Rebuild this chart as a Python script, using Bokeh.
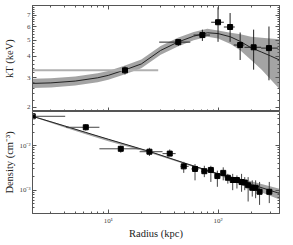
import numpy as np
from bokeh.plotting import figure
from bokeh.layouts import column
from bokeh.models import Range1d, FixedTicker, LogAxis
from bokeh.embed import file_html
from bokeh.resources import INLINE

# ---------------- data: temperature profile ----------------
kt_r = [14.2, 43.4, 72, 100, 128.8, 159, 211, 291]
kt_val = [3.31, 4.86, 5.35, 6.37, 5.97, 4.67, 4.53, 4.48]
kt_lo = [3.13, 4.61, 4.94, 4.88, 4.88, 3.81, 3.34, 2.89]
kt_hi = [3.49, 5.05, 5.76, 7.81, 7.22, 5.54, 5.76, 6.01]
kt_rlo = [1.5, 29.1, 59.8, 86.6, 113, 139, 174, 247]
kt_rhi = [28.5, 55.9, 84.3, 113, 142, 174, 247, 351]

ktm_r = [2.04, 3, 5, 8, 10, 14.2, 20, 30, 43, 60, 80, 100, 130, 160, 200, 250, 300, 363]
ktm_val = [2.77, 2.79, 2.86, 2.99, 3.09, 3.33, 3.61, 4.34, 4.86, 5.27, 5.52, 5.46, 5.22, 4.90, 4.50, 4.24, 4.03, 3.81]
ktm_lo = [2.60, 2.62, 2.69, 2.81, 2.91, 3.14, 3.40, 4.09, 4.58, 4.99, 5.22, 5.10, 4.73, 4.34, 3.81, 3.34, 2.93, 2.57]
ktm_hi = [2.95, 2.97, 3.04, 3.18, 3.28, 3.53, 3.84, 4.61, 5.16, 5.58, 5.82, 5.70, 5.52, 5.41, 5.22, 5.15, 5.10, 5.05]

# ---------------- data: density profile ----------------
ne_r = [2.05, 6.24, 13.0, 23.7, 36.3, 48.7, 61.7, 75, 86, 98.6, 111.5, 122.8, 136, 148.6, 163.8, 175, 188, 205, 220, 239, 293]
ne_val = [0.0453, 0.0257, 0.00846, 0.00728, 0.0066, 0.00342, 0.00299, 0.00266, 0.00284, 0.00207, 0.00244,
          0.0019, 0.00169, 0.00169, 0.00152, 0.00148, 0.00129, 0.00113, 0.00113, 0.00092, 0.00092]
ne_lo = [0.041, 0.0216, 0.0069, 0.00583, 0.00583, 0.00244, 0.00166, 0.00196, 0.00153, 0.00119, 0.00166,
         0.0014, 0.0010, 0.00109, 0.00092, 0.0010, 0.000557, 0.000718, 0.00066, 0.000468, 0.000513]
ne_hi = [0.050, 0.0303, 0.0100, 0.0089, 0.00818, 0.00431, 0.00384, 0.00352, 0.00352, 0.00274, 0.00325,
         0.00232, 0.00232, 0.00214, 0.00232, 0.00196, 0.00196, 0.00166, 0.00166, 0.00153, 0.00153]
ne_rlo = [1.5, 4.13, 8.3, 19.3, 31.2, 45.5, 57, 70, 81, 93, 106, 117, 131, 143, 157, 170, 182, 197, 212, 228, 275]
ne_rhi = [4.05, 8.3, 19.3, 31.2, 41.1, 54, 67, 81, 92, 105, 118, 129, 142, 155, 171, 181, 195, 213, 229, 252, 312]

nem_r = [2.04, 4, 6.24, 10, 23.7, 50, 100, 200, 363]
nem_val = [0.0453, 0.0275, 0.0197, 0.01387, 0.00739, 0.00402, 0.00233, 0.00135, 0.000847]
nem_lo = [0.0443, 0.0255, 0.0180, 0.0125, 0.0069, 0.0038, 0.00220, 0.00110, 0.00062]
nem_hi = [0.0463, 0.0280, 0.0200, 0.0141, 0.0075, 0.0041, 0.00243, 0.00158, 0.00108]

# ticks
x_major = [10, 100]
x_minor = [3, 4, 5, 6, 7, 8, 9, 20, 30, 40, 50, 60, 70, 80, 90, 200, 300]
kt_major = [2, 3, 4, 5, 6, 7]
kt_minor = [2.2, 2.4, 2.6, 2.8, 3.2, 3.4, 3.6, 3.8, 4.2, 4.4, 4.6, 4.8, 5.2, 5.4, 5.6, 5.8,
            6.2, 6.4, 6.6, 6.8, 7.2, 7.4, 7.6, 7.8]
ne_major = [0.001, 0.01]
ne_minor = [4e-4, 5e-4, 6e-4, 7e-4, 8e-4, 9e-4, 2e-3, 3e-3, 4e-3, 5e-3, 6e-3, 7e-3, 8e-3, 9e-3,
            2e-2, 3e-2, 4e-2, 5e-2]

FONT = "Liberation Serif"
AX = "#555555"
BAND = "#9a9a9a"

x_range = Range1d(2.04, 363)
xticker = FixedTicker(ticks=x_major, minor_ticks=x_minor)


def style_axis(ax, labels=True):
    ax.axis_line_color = AX
    ax.major_tick_in = 4
    ax.major_tick_out = 0
    ax.minor_tick_in = 2
    ax.minor_tick_out = 0
    ax.major_tick_line_color = AX
    ax.minor_tick_line_color = AX
    ax.major_label_text_font = FONT
    ax.axis_label_text_font = FONT
    ax.axis_label_text_font_style = "normal"
    ax.axis_label_text_color = "#222222"
    ax.axis_label_text_font_size = "10.5px"
    if labels:
        ax.major_label_text_color = "#444444"
        ax.major_label_text_font_size = "7px"
        ax.major_label_standoff = 2
    else:
        ax.major_label_text_color = None
        ax.major_label_text_font_size = "1px"
        ax.major_label_standoff = -3


# ---------------- top panel ----------------
p1 = figure(width=281, height=111, x_axis_type="log", y_axis_type="log",
            x_range=x_range, y_range=Range1d(1.89, 8),
            output_backend="svg", toolbar_location=None,
            min_border_left=27, min_border_right=2, min_border_top=5, min_border_bottom=0)
p1.grid.visible = False
p1.outline_line_color = AX

ktticker = FixedTicker(ticks=kt_major, minor_ticks=kt_minor)
p1.yaxis.ticker = ktticker
p1.xaxis.ticker = xticker
p1.yaxis.axis_label = "kT (keV)"
style_axis(p1.yaxis[0], True)
p1.yaxis.axis_label_standoff = 9
style_axis(p1.xaxis[0], False)
r_ax = LogAxis(ticker=ktticker)
style_axis(r_ax, False)
p1.add_layout(r_ax, "right")
t_ax = LogAxis(ticker=xticker)
style_axis(t_ax, False)
p1.add_layout(t_ax, "above")

p1.varea(x=ktm_r, y1=ktm_lo, y2=ktm_hi, fill_color=BAND, fill_alpha=0.9)
p1.line(x=ktm_r, y=ktm_val, line_color="#222222", line_width=1)
# x error bars (first one is drawn light gray in the reference)
p1.segment(x0=kt_rlo[:1], y0=kt_val[:1], x1=kt_rhi[:1], y1=kt_val[:1], line_color="#b0b0b0", line_width=2)
p1.segment(x0=kt_rlo[1:], y0=kt_val[1:], x1=kt_rhi[1:], y1=kt_val[1:], line_color="#222222", line_width=1)
p1.segment(x0=kt_r, y0=kt_lo, x1=kt_r, y1=kt_hi, line_color="#222222", line_width=1)
p1.scatter(x=kt_r, y=kt_val, marker="square", size=5, fill_color="black", line_color="black")

# ---------------- bottom panel ----------------
p2 = figure(width=281, height=130, x_axis_type="log", y_axis_type="log",
            x_range=x_range, y_range=Range1d(3.0e-4, 0.058),
            output_backend="svg", toolbar_location=None,
            min_border_left=27, min_border_right=2, min_border_top=0, min_border_bottom=25)
p2.grid.visible = False
p2.outline_line_color = AX

neticker = FixedTicker(ticks=ne_major, minor_ticks=ne_minor)
p2.yaxis.ticker = neticker
p2.xaxis.ticker = xticker
p2.yaxis.axis_label = "Density (cm⁻³)"
p2.xaxis.axis_label = "Radius (kpc)"
style_axis(p2.yaxis[0], True)
style_axis(p2.xaxis[0], True)
p2.yaxis.axis_label_standoff = 1
p2.xaxis.axis_label_standoff = 0
p2.xaxis.major_label_standoff = 3
p2.yaxis.major_label_overrides = {0.001: "10⁻³", 0.01: "10⁻²"}
p2.xaxis.major_label_overrides = {10: "10¹", 100: "10²"}
r_ax2 = LogAxis(ticker=neticker)
style_axis(r_ax2, False)
p2.add_layout(r_ax2, "right")

p2.varea(x=nem_r, y1=nem_lo, y2=nem_hi, fill_color=BAND, fill_alpha=0.9)
p2.line(x=nem_r, y=nem_val, line_color="#222222", line_width=1)
p2.segment(x0=ne_rlo, y0=ne_val, x1=ne_rhi, y1=ne_val, line_color="#444444", line_width=1)
p2.segment(x0=ne_r, y0=ne_lo, x1=ne_r, y1=ne_hi, line_color="#444444", line_width=1)
p2.scatter(x=ne_r, y=ne_val, marker="square", size=5, fill_color="black", line_color="black")

layout = column(p1, p2, spacing=0)

open("out.html", "w").write(file_html(layout, INLINE))
